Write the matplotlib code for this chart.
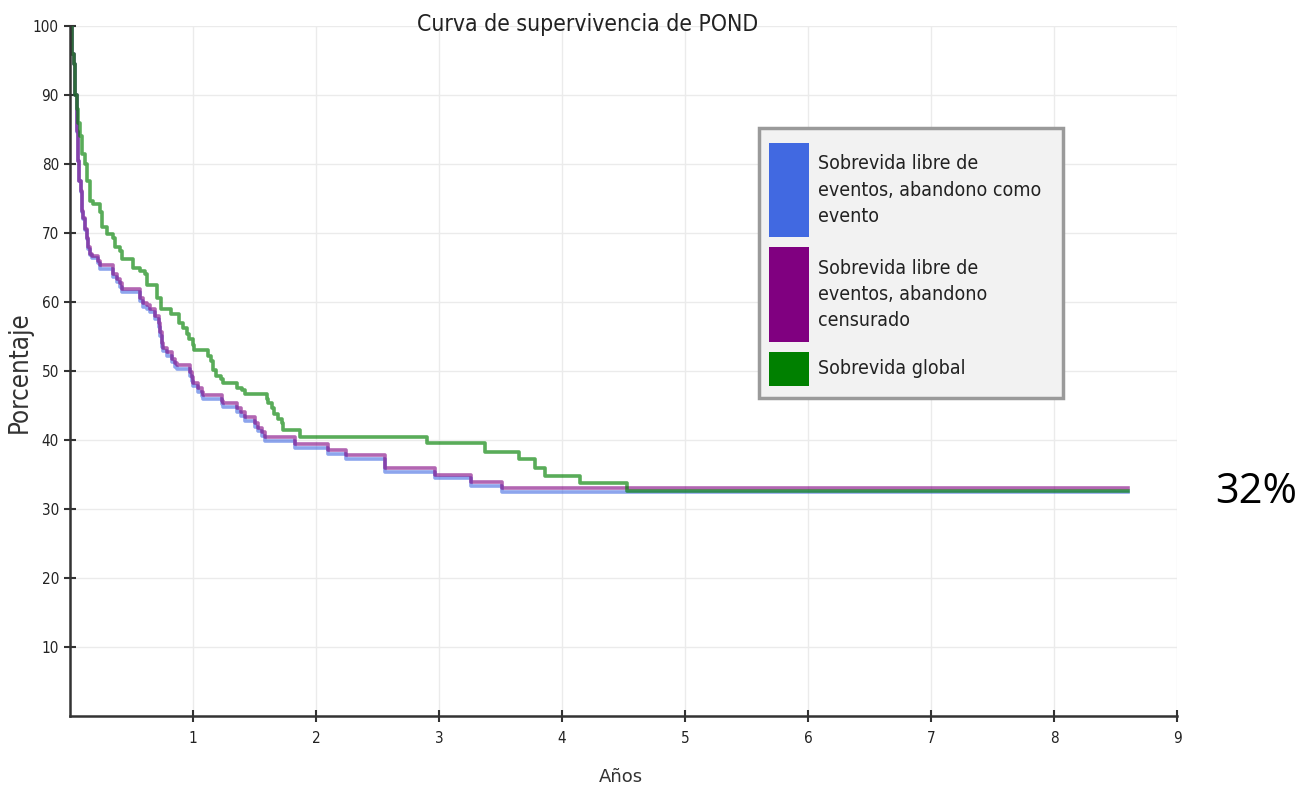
import matplotlib
matplotlib.use("Agg")
import matplotlib.pyplot as plt
from matplotlib.patches import Rectangle

# datos (tiempo en años, porcentaje despues de cada escalon)
t_global = [0, 0.014, 0.032, 0.04, 0.054, 0.065, 0.081, 0.095, 0.12, 0.136, 0.162, 0.187,
            0.24, 0.26, 0.30, 0.35, 0.365, 0.41, 0.42, 0.51, 0.57, 0.61, 0.63, 0.71, 0.74,
            0.82, 0.89, 0.92, 0.95, 0.97, 1.0, 1.01, 1.12, 1.15, 1.16, 1.19, 1.23, 1.24,
            1.36, 1.40, 1.42, 1.60, 1.61, 1.64, 1.66, 1.69, 1.72, 1.73, 1.87, 2.90, 3.37,
            3.65, 3.78, 3.86, 4.15, 4.53, 8.6]
s_global = [100, 96, 94.5, 90, 88, 86, 84, 81.5, 80, 77.6, 74.7, 74.2,
            73, 70.8, 69.9, 69.3, 67.9, 67.4, 66.3, 65, 64.5, 64.1, 62.4, 60.6, 59,
            58.3, 56.9, 56.2, 55.4, 54.7, 53.7, 53.0, 52.2, 51.5, 50.1, 49.3, 48.9, 48.2,
            47.6, 47.2, 46.7, 46.0, 45.3, 44.6, 43.8, 43.1, 42.4, 41.4, 40.4, 39.5, 38.3,
            37.2, 36.0, 34.8, 33.7, 32.6, 32.6]

t_libre = [0, 0.014, 0.032, 0.04, 0.054, 0.06, 0.065, 0.075, 0.087, 0.095, 0.108, 0.122,
           0.136, 0.149, 0.163, 0.176, 0.228, 0.244, 0.35, 0.38, 0.406, 0.42, 0.57, 0.59,
           0.63, 0.65, 0.69, 0.72, 0.735, 0.75, 0.76, 0.79, 0.83, 0.854, 0.867, 0.976,
           0.99, 1.003, 1.043, 1.07, 1.084, 1.233, 1.246, 1.36, 1.39, 1.42, 1.50, 1.53,
           1.56, 1.585, 1.83, 2.1, 2.24, 2.56, 2.97, 3.26, 3.51, 8.6]
s_censurado = [100, 96, 94.5, 90, 88, 84.8, 80.5, 77.6, 76.1, 73.2, 72.2, 70.6,
               69.3, 67.9, 67.0, 66.7, 66.0, 65.3, 64.1, 63.4, 62.7, 61.9, 60.6, 59.8,
               59.5, 59.0, 58.0, 56.9, 55.6, 54.0, 53.4, 52.7, 51.8, 51.1, 50.8, 49.8,
               49.1, 48.3, 47.5, 46.9, 46.5, 45.7, 45.3, 44.6, 44.0, 43.3, 42.4, 41.8,
               41.1, 40.4, 39.4, 38.5, 37.8, 35.9, 35.0, 33.9, 33.0, 33.0]
s_evento = [100, 96, 94.5, 90, 88, 84.7, 80.4, 77.5, 75.9, 73.0, 72.0, 70.4,
            69.1, 67.7, 66.8, 66.4, 65.6, 64.8, 63.6, 62.9, 62.2, 61.4, 60.1, 59.3,
            59.0, 58.5, 57.5, 56.4, 55.1, 53.5, 52.9, 52.2, 51.3, 50.6, 50.3, 49.3,
            48.6, 47.8, 47.0, 46.4, 46.0, 45.2, 44.8, 44.1, 43.5, 42.8, 41.9, 41.3,
            40.6, 39.9, 38.9, 38.0, 37.3, 35.4, 34.5, 33.4, 32.5, 32.5]

legend_labels = ["Sobrevida libre de\neventos, abandono como\nevento",
                 "Sobrevida libre de\neventos, abandono\ncensurado",
                 "Sobrevida global"]
colors = ["#4169e1", "#800080", "#008000"]

W, H = 1304, 791
fig = plt.figure(figsize=(W / 100, H / 100), dpi=100)
ax = fig.add_axes([70 / W, 1 - 716 / H, 1107 / W, 690 / H])

def fx(px):
    return px / W

def fy(py):
    return 1 - py / H

ax.step(t_libre, s_evento, where="post", color=colors[0], lw=2.6, alpha=0.6)
ax.step(t_libre, s_censurado, where="post", color=colors[1], lw=2.6, alpha=0.6)
ax.step(t_global, s_global, where="post", color=colors[2], lw=2.6, alpha=0.65)

ax.set_xlim(0, 9)
ax.set_ylim(0, 100)
ax.set_xticks(range(1, 10))
ax.set_yticks(range(10, 101, 10))
ax.grid(True, color="#ebebeb", lw=1)
ax.set_axisbelow(True)
for side in ["top", "right"]:
    ax.spines[side].set_visible(False)
for side in ["left", "bottom"]:
    ax.spines[side].set_color("#333333")
    ax.spines[side].set_linewidth(1.8)
ax.tick_params(direction="inout", length=8, width=1.5, color="#333333",
               labelsize=11, labelcolor="#222222")
ax.tick_params(axis="x", pad=7)
ax.tick_params(axis="y", pad=4)
for lab in ax.get_xticklabels() + ax.get_yticklabels():
    lab.set_fontstretch("condensed")

fig.text(fx(588), fy(25), "Curva de supervivencia de POND", ha="center", va="center",
         fontsize=16.5, color="#222222", fontstretch="condensed")
fig.text(fx(20), fy(372), "Porcentaje", rotation=90, ha="center", va="center",
         fontsize=18.5, color="#333333", fontstretch="condensed")
fig.text(fx(621), fy(777), "Años", ha="center", va="center", fontsize=13, color="#333333")

# leyenda dibujada a mano (parches altos como en el original)
fig.add_artist(Rectangle((fx(759), fy(398)), 304 / W, 270 / H, transform=fig.transFigure,
                         facecolor="#f2f2f2", edgecolor="#9a9a9a", lw=2.5))
boxes = [(143, 237), (247, 342), (352, 386)]
for (top, bot), col, lab in zip(boxes, colors, legend_labels):
    fig.add_artist(Rectangle((fx(769), fy(bot)), 40 / W, (bot - top) / H,
                             transform=fig.transFigure, facecolor=col, edgecolor="none"))
    fig.text(fx(818), fy((top + bot) / 2), lab, ha="left", va="center", fontsize=14,
             color="#222222", linespacing=1.5, fontstretch="condensed")

fig.text(fx(1256), fy(492), "32%", ha="center", va="center", fontsize=30,
         family="Open Sans", color="black")

fig.savefig("out.png", dpi=100)
